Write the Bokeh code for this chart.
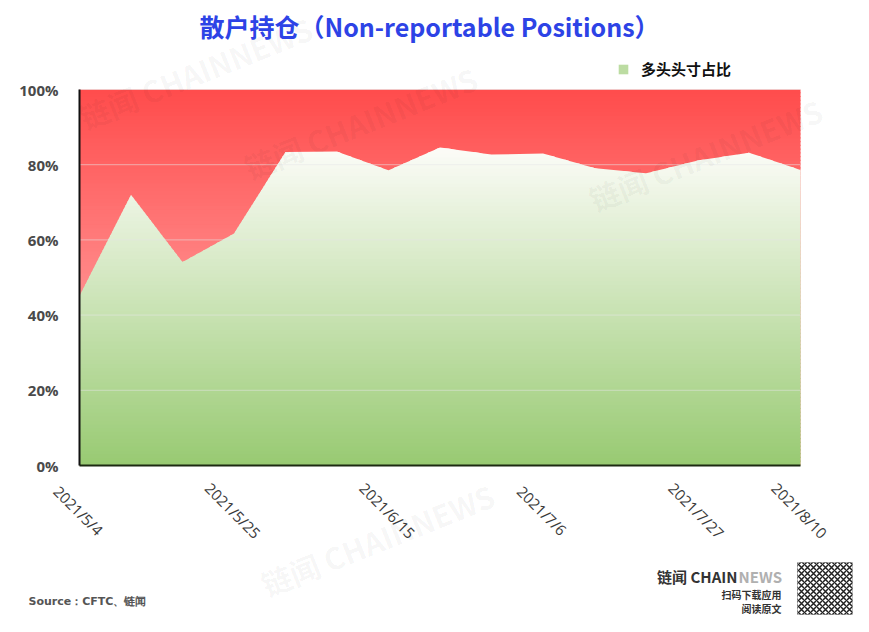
import numpy as np
from bokeh.plotting import figure
from bokeh.models import (Range1d, Label, LabelSet, ColumnDataSource, Legend, LegendItem,
                          BoxAnnotation)
from bokeh.core.properties import value
from bokeh.embed import file_html
from bokeh.resources import INLINE

# ---------------- data ----------------
dates = ["2021/5/4", "2021/5/11", "2021/5/18", "2021/5/25", "2021/6/1", "2021/6/8",
         "2021/6/15", "2021/6/22", "2021/6/29", "2021/7/6", "2021/7/13", "2021/7/20",
         "2021/7/27", "2021/8/3", "2021/8/10"]
long_share = [0.451, 0.720, 0.541, 0.617, 0.834, 0.835, 0.785, 0.846, 0.827, 0.830,
              0.791, 0.777, 0.811, 0.832, 0.786]
label_dates = ["2021/5/4", "2021/5/25", "2021/6/15", "2021/7/6", "2021/7/27", "2021/8/10"]
y_ticks = [0.0, 0.2, 0.4, 0.6, 0.8, 1.0]
y_tick_labels = ["0%", "20%", "40%", "60%", "80%", "100%"]
series_name = "多头头寸占比"
title_text = "散户持仓（Non-reportable Positions）"
source_text = "Source：CFTC、链闻"

# ---------------- layout constants (pixels) ----------------
W, H = 853, 616
PLOT_L, PLOT_R, PLOT_T, PLOT_B = 79, 800, 89, 465   # data area inside the canvas

# ---------------- geometry helpers ----------------
x = np.arange(len(dates), dtype=float)
v = np.array(long_share)
N = 100
EPS = 0.003
edges = np.linspace(0, 1, N + 1)
levels = sorted(set(list(edges) + list(np.minimum(edges + EPS, 1.0))))

xr = [x[0]]
for i in range(len(x) - 1):
    y0, y1 = v[i], v[i + 1]
    lo, hi = min(y0, y1), max(y0, y1)
    ts = sorted((l - y0) / (y1 - y0) for l in levels if lo < l < hi)
    xr += [x[i] + t for t in ts] + [x[i + 1]]
xr = np.array(xr)
yr = np.interp(xr, x, v)


def mix(c0, c1, t):
    t = min(max(t, 0.0), 1.0)
    c = [int(round(a + (b - a) * t)) for a, b in zip(c0, c1)]
    return "#%02x%02x%02x" % tuple(c)


RED_TOP, RED_LOW = (255, 76, 76), (255, 140, 140)
GREEN_LOW, GREEN_TOP = (152, 202, 114), (252, 252, 248)
vmin, vmax = v.min(), v.max()

# ranges chosen so the data area lands where the reference has it; the frame fills the canvas
x_per_px = (x[-1] - x[0]) / (PLOT_R - PLOT_L)
y_per_px = 1.0 / (PLOT_B - PLOT_T)
x_range = Range1d(x[0] - PLOT_L * x_per_px, x[0] + (W - PLOT_L) * x_per_px)
y_range = Range1d(-(H - PLOT_B) * y_per_px, 1.0 + PLOT_T * y_per_px)

p = figure(width=W, height=H, output_backend="svg", toolbar_location=None,
           x_range=x_range, y_range=y_range, x_axis_location=None, y_axis_location=None,
           min_border_left=0, min_border_right=0, min_border_top=0, min_border_bottom=0)
p.outline_line_color = None
p.background_fill_color = "white"
p.border_fill_color = "white"
p.xgrid.visible = False
p.ygrid.visible = False

# red background gradient (full width strips)
red_bottom = edges[:-1]
red_top = np.minimum(edges[1:] + EPS, 1.0)
red_cols = [mix(RED_LOW, RED_TOP, ((a + b) / 2 - vmin) / (1 - vmin)) for a, b in zip(red_bottom, red_top)]
p.quad(left=x[0], right=x[-1], bottom=red_bottom, top=red_top, fill_color=red_cols, line_color=None)

# green area gradient (horizontal slices of the area under the series)
gxs, gys, gcols = [], [], []
for k in range(N):
    a, b = edges[k], edges[k + 1]
    if a >= vmax:
        break
    top = np.clip(yr, a, min(b + EPS, 1.0))
    gxs.append(np.concatenate([xr, xr[::-1]]))
    gys.append(np.concatenate([top, np.full(len(xr), a)]))
    gcols.append(mix(GREEN_LOW, GREEN_TOP, ((a + b) / 2) / vmax))
green_r = p.patches(xs=gxs, ys=gys, fill_color=gcols, line_color=None)

# horizontal grid lines over the areas
p.segment(x0=x[0], x1=x[-1], y0=y_ticks, y1=y_ticks, line_color="#e6e6e6", line_alpha=0.55,
          line_width=1)
# axis lines
p.segment(x0=[x[0]], x1=[x[-1]], y0=[0.0], y1=[0.0], line_color="#1d2a12", line_width=2)
p.segment(x0=[x[0]], x1=[x[0]], y0=[y_ticks[0]], y1=[y_ticks[-1]], line_color="#111111",
          line_width=2)

# y tick labels
ysrc = ColumnDataSource(dict(x=[x[0]] * len(y_ticks), y=y_ticks, text=y_tick_labels))
p.add_layout(LabelSet(x="x", y="y", text="text", source=ysrc, x_offset=-21,
                      text_align="right", text_baseline="middle",
                      text_font=value("Open Sans"), text_font_style="bold",
                      text_font_size="15px", text_color="#4a4a4a"))

# x tick labels (rotated, centred under their dates)
lab_src = ColumnDataSource(dict(x=[float(dates.index(d)) for d in label_dates],
                                y=[0.0] * len(label_dates), text=label_dates))
p.add_layout(LabelSet(x="x", y="y", text="text", source=lab_src, y_offset=-45, x_offset=-1,
                      angle=-np.pi / 4, text_align="center", text_baseline="middle",
                      text_font=value("Open Sans"), text_font_size="15px", text_color="#3a3a3a"))

# ---------------- legend ----------------
leg = Legend(items=[LegendItem(label=series_name, renderers=[green_r], index=30)],
             location=(617, H - 79), orientation="horizontal", padding=0, margin=0,
             spacing=0, glyph_width=12, glyph_height=12, label_standoff=12,
             label_text_font="Noto Sans CJK SC", label_text_font_style="bold",
             label_text_font_size="15px", label_text_color="#111111",
             border_line_color=None, background_fill_alpha=0)
p.add_layout(leg, "center")


# ---------------- texts (screen coords relative to canvas bottom-left) ----------------
def lab(text, X, Y, size, color="#333333", style="bold", align="left", font="Noto Sans CJK SC",
        angle=0.0, alpha=1.0):
    p.add_layout(Label(x=X, y=H - Y, x_units="screen", y_units="screen", text=text,
                       text_font=font, text_font_size=size, text_font_style=style,
                       text_color=color, text_align=align, text_baseline="middle",
                       angle=angle, text_alpha=alpha))


# faint diagonal watermarks
wm = "链闻 CHAINNEWS"
for X, Y in [(80, 118), (245, 168), (590, 200), (262, 585)]:
    lab(wm, X, Y, "30px", color="#000000", angle=0.38, alpha=0.045)

lab(title_text, 429, 25, "25px", color="#2d43e6", align="center")
lab(source_text, 28, 601, "11px", color="#555555", font="DejaVu Sans")
lab("链闻 CHAIN", 737, 576, "15px", color="#333333", align="right")
lab("NEWS", 738, 576, "15px", color="#b0b0b0", align="left")
lab("扫码下载应用", 781, 594, "10px", color="#333333", align="right")
lab("阅读原文", 781, 608, "10px", color="#333333", align="right")

# QR-code-like badge
p.add_layout(BoxAnnotation(left=797, right=852, top=H - 562, bottom=H - 614,
                           left_units="screen", right_units="screen",
                           top_units="screen", bottom_units="screen",
                           fill_color="white", fill_alpha=1, line_color="#333333", line_width=1,
                           hatch_pattern="x", hatch_color="#222222", hatch_scale=6,
                           hatch_weight=1.5))

open("out.html", "w").write(file_html(p, INLINE))
